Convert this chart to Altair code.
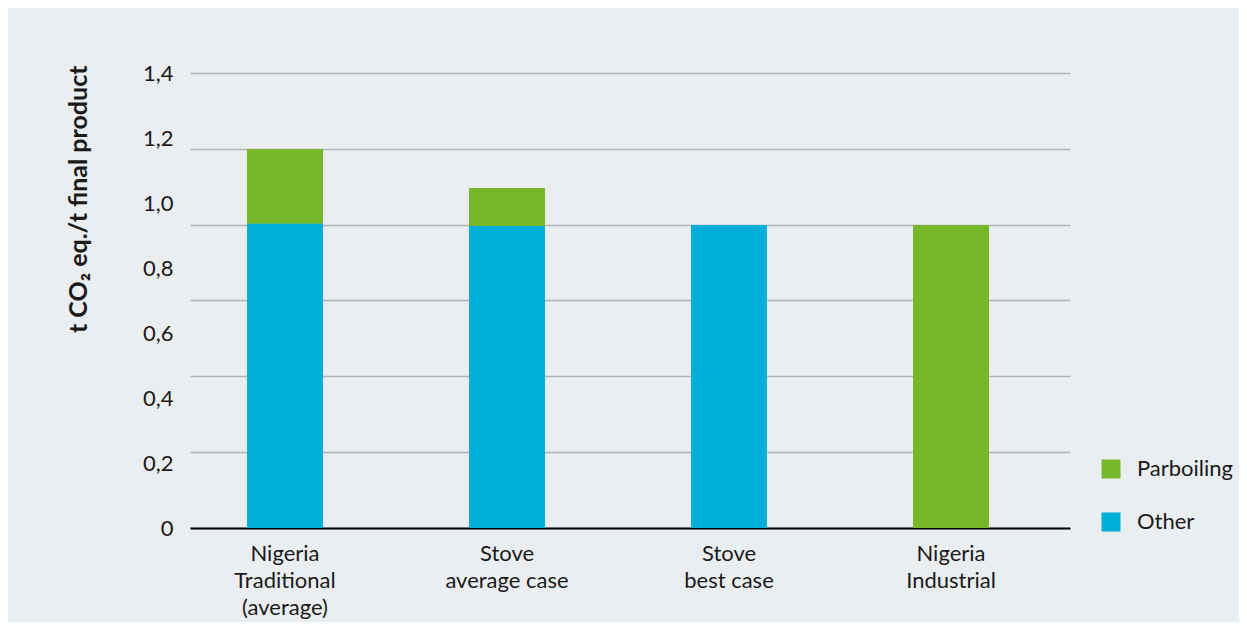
import altair as alt
import pandas as pd

categories = ["Nigeria|Traditional|(average)", "Stove|average case", "Stove|best case", "Nigeria|Industrial"]
other = [0.937, 0.930, 0.932, 0.0]
parboiling = [0.229, 0.116, 0.0, 0.932]
series_names = ["Parboiling", "Other"]
y_label_values = [0, 0.2, 0.4, 0.6, 0.8, 1.0, 1.2, 1.4]
y_grid_values = [0, 1.4 / 6, 2.8 / 6, 4.2 / 6, 5.6 / 6, 7.0 / 6, 1.4]

rows = []
for i, c in enumerate(categories):
    rows.append({"cat": c, "series": "Other", "value": other[i], "ord": 0})
    rows.append({"cat": c, "series": "Parboiling", "value": parboiling[i], "ord": 1})
df = pd.DataFrame(rows)

FONT = "Lato"
TXT = "#1a1a1a"

x_enc = alt.X(
    "cat:N",
    sort=categories,
    title=None,
    scale=alt.Scale(paddingInner=0.658, paddingOuter=0.311, align=0.413),
    axis=alt.Axis(
        labelExpr="split(datum.label, '|')",
        labelAngle=0,
        labelFontSize=22,
        labelColor=TXT,
        labelFont=FONT,
        labelPadding=15,
        labelLineHeight=27,
        ticks=False,
        domainColor="#000000",
        domainWidth=2,
        grid=False,
    ),
)

color_enc = alt.Color(
    "series:N",
    scale=alt.Scale(domain=series_names, range=["#76b82a", "#00afd8"]),
    legend=alt.Legend(
        title=None,
        orient="none",
        legendX=910,
        legendY=385,
        symbolType="square",
        symbolSize=361,
        symbolStrokeWidth=0,
        labelFontSize=22,
        labelFont=FONT,
        labelColor=TXT,
        labelOffset=15,
        rowPadding=31,
    ),
)

y_scale = alt.Scale(domain=[0, 1.4], nice=False)

grid_layer = alt.Chart(df).mark_bar().encode(
    x=x_enc,
    y=alt.Y(
        "value:Q",
        stack="zero",
        scale=y_scale,
        title=None,
        axis=alt.Axis(
            orient="left",
            values=y_grid_values,
            labels=False,
            ticks=False,
            domain=False,
            grid=True,
            gridColor="#b4b4b4",
            gridWidth=1.5,
        ),
    ),
    color=color_enc,
    order=alt.Order("ord:Q"),
)

label_layer = alt.Chart(df).mark_bar().encode(
    x=x_enc,
    y=alt.Y(
        "value:Q",
        stack="zero",
        scale=y_scale,
        title="t CO₂ eq./t final product",
        axis=alt.Axis(
            orient="left",
            values=y_label_values,
            labelExpr="datum.value == 0 ? '0' : replace(format(datum.value, '.1f'), '.', ',')",
            labelFontSize=22,
            labelFont=FONT,
            labelColor=TXT,
            labelPadding=17,
            ticks=False,
            domain=False,
            grid=False,
            titleFont=FONT,
            titleFontSize=25,
            titleFontWeight="bold",
            titleColor=TXT,
            titleX=-112,
            titleY=-8,
            titleAlign="right",
            titleBaseline="middle",
            titleAngle=-90,
        ),
    ),
    color=color_enc,
    order=alt.Order("ord:Q"),
)

chart = (
    alt.layer(grid_layer, label_layer)
    .resolve_axis(y="independent")
    .properties(
        width=880,
        height=455,
        background="#ebeef1",
        padding={"left": 182, "top": 65, "right": 169, "bottom": 94},
        autosize=alt.AutoSizeParams(type="none"),
    )
    .configure_view(stroke=None)
)

chart.save("out.html", embed_options={"renderer": "svg", "actions": False})
